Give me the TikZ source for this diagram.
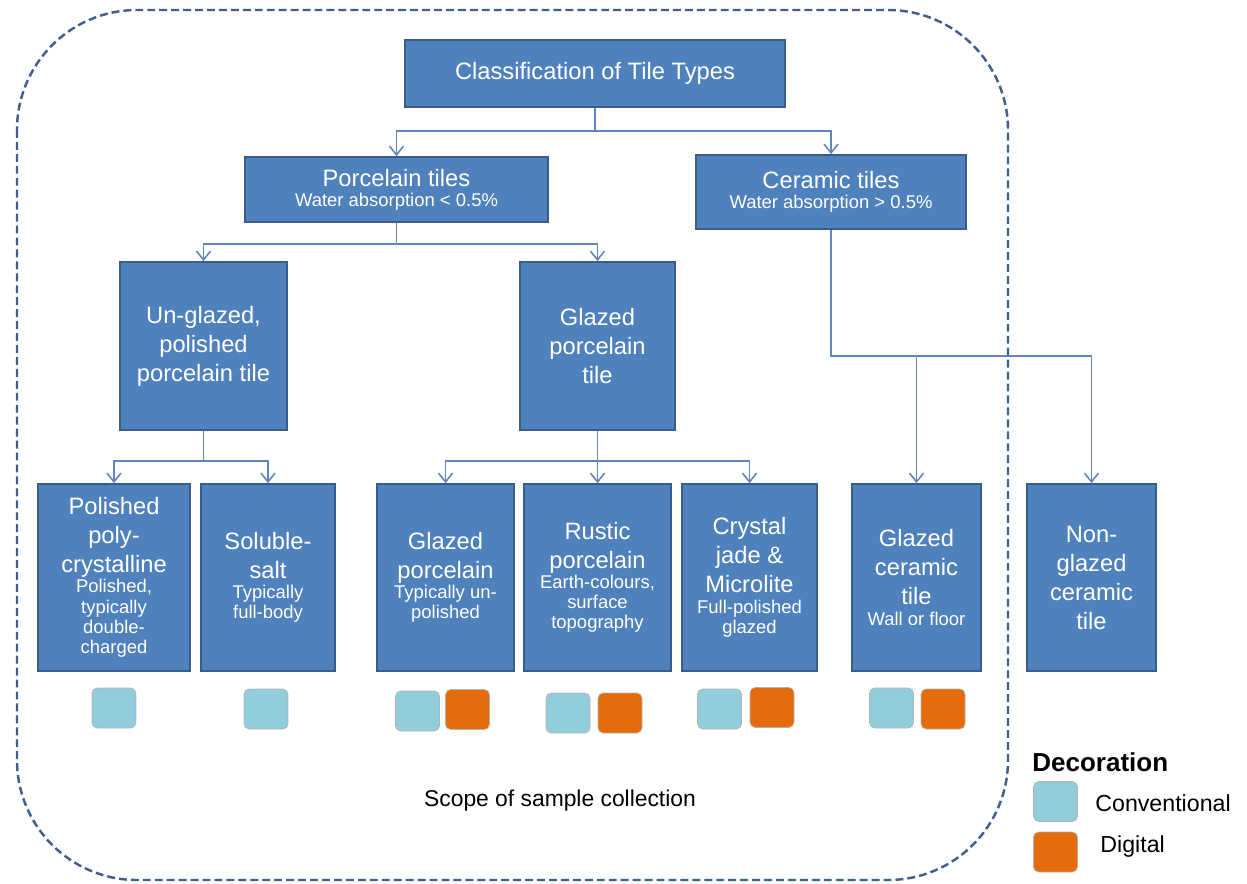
\documentclass[tikz,border=0pt]{standalone}
\usepackage{fontspec}
\setmainfont{Liberation Sans}
\usetikzlibrary{arrows.meta}
\definecolor{boxblue}{HTML}{4F81BD}
\definecolor{boxedge}{HTML}{385D8A}
\definecolor{linkblue}{HTML}{5F86BE}
\definecolor{scopeblue}{HTML}{3F5F8F}
\definecolor{convblue}{HTML}{92CDDC}
\definecolor{digiorange}{HTML}{E46C0A}
\newcommand{\subline}{\\[-5pt]\fontsize{10.5}{12}\selectfont}
\begin{document}
\begin{tikzpicture}[x=0.02cm, y=-0.02cm,
	tilebox/.style={draw=boxedge, line width=1pt, fill=boxblue, text=white, align=center, font=\fontsize{13.5}{16.5}\selectfont, inner sep=2pt},
	link/.style={draw=linkblue, line width=0.9pt, -{Straight Barb[length=5pt,width=8pt]}},
	swatch/.style={draw=gray!60, line width=0.4pt, rounded corners=3pt, minimum width=0.88cm, minimum height=0.8cm, inner sep=0pt},
	conv/.style={swatch, fill=convblue},
	digi/.style={swatch, fill=digiorange}]
	\useasboundingbox (0,0) rectangle (1247,883);
	
	% Scope
	\draw[scopeblue, line width=1.4pt, dash pattern=on 4.5pt off 2.3pt, rounded corners=2.4cm] (17,10) rectangle (1008,880);
	\node[font=\fontsize{13}{15}\selectfont] (scope) at (560,801) {Scope of sample collection};
	
	% Nodes
	\node[tilebox, minimum width=7.6cm, minimum height=1.34cm] (title) at (595,73.5) {Classification of Tile Types};
	\node[tilebox, minimum width=6.06cm, minimum height=1.3cm] (porc) at (396.5,189.5) {Porcelain tiles\subline Water absorption < 0.5\%};
	\node[tilebox, minimum width=5.4cm, minimum height=1.48cm] (cer) at (831,192) {Ceramic tiles\subline Water absorption > 0.5\%};
	\node[tilebox, minimum width=3.34cm, minimum height=3.36cm] (unglz) at (203.5,346) {Un-glazed,\\polished\\porcelain tile};
	\node[tilebox, minimum width=3.1cm, minimum height=3.36cm] (glzp) at (597.5,346) {Glazed\\porcelain\\tile};
	\node[tilebox, minimum width=3.04cm, minimum height=3.74cm] (poly) at (114,577.5) {Polished\\poly-\\crystalline\subline Polished,\subline typically\subline double-\subline charged};
	\node[tilebox, minimum width=2.68cm, minimum height=3.74cm] (salt) at (268,577.5) {Soluble-\\salt\subline Typically\subline full-body};
	\node[tilebox, minimum width=2.74cm, minimum height=3.74cm] (gpor) at (445.5,577.5) {Glazed\\porcelain\subline Typically un-\subline polished};
	\node[tilebox, minimum width=2.94cm, minimum height=3.74cm] (rust) at (597.5,577.5) {Rustic\\porcelain\subline Earth-colours,\subline surface\subline topography};
	\node[tilebox, minimum width=2.7cm, minimum height=3.74cm] (crys) at (749.5,577.5) {Crystal\\jade \&\\Microlite\subline Full-polished\subline glazed};
	\node[tilebox, minimum width=2.58cm, minimum height=3.74cm] (gcer) at (916.5,577.5) {Glazed\\ceramic\\tile\subline Wall or floor};
	\node[tilebox, minimum width=2.58cm, minimum height=3.74cm] (ngcer) at (1091.5,577.5) {Non-\\glazed\\ceramic\\tile};
	
	% Decoration swatches
	\node[conv] (polyc) at (114,708) {};
	\node[conv] (saltc) at (266,709) {};
	\node[conv] (gporc) at (417.5,711) {};
	\node[digi] (gpord) at (467.5,709.5) {};
	\node[conv] (rustc) at (568,713) {};
	\node[digi] (rustd) at (620,713) {};
	\node[conv] (crysc) at (719.5,709) {};
	\node[digi] (crysd) at (772,707.5) {};
	\node[conv] (gcerc) at (891.5,708) {};
	\node[digi] (gcerd) at (943,709) {};
	
	% Legend
	\node[anchor=west, font=\fontsize{14.8}{17}\selectfont\bfseries, inner sep=0pt] (legend) at (1032,762) {Decoration};
	\node[conv] (legc) at (1055.5,801.5) {};
	\node[digi] (legd) at (1055.5,852) {};
	\node[anchor=west, font=\fontsize{13.2}{15}\selectfont, inner sep=0pt] (legct) at (1095,803) {Conventional};
	\node[anchor=west, font=\fontsize{13.2}{15}\selectfont, inner sep=0pt] (legdt) at (1100,846) {Digital};
	
	% Edges
	\draw[link] (title.south) -- ++(0,23) -| (porc.north);
	\draw[link] (title.south) -- ++(0,23) -| (cer.north);
	\draw[link] (porc.south) -- ++(0,21) -| (unglz.north);
	\draw[link] (porc.south) -- ++(0,21) -| (glzp.north);
	\draw[link] (cer.south) -- ++(0,126) -| (gcer.north);
	\draw[link] (cer.south) -- ++(0,126) -| (ngcer.north);
	\draw[link] (unglz.south) -- ++(0,30) -| (poly.north);
	\draw[link] (unglz.south) -- ++(0,30) -| (salt.north);
	\draw[link] (glzp.south) -- ++(0,30) -| (gpor.north);
	\draw[link] (glzp.south) -- (rust.north);
	\draw[link] (glzp.south) -- ++(0,30) -| (crys.north);
\end{tikzpicture}
\end{document}
